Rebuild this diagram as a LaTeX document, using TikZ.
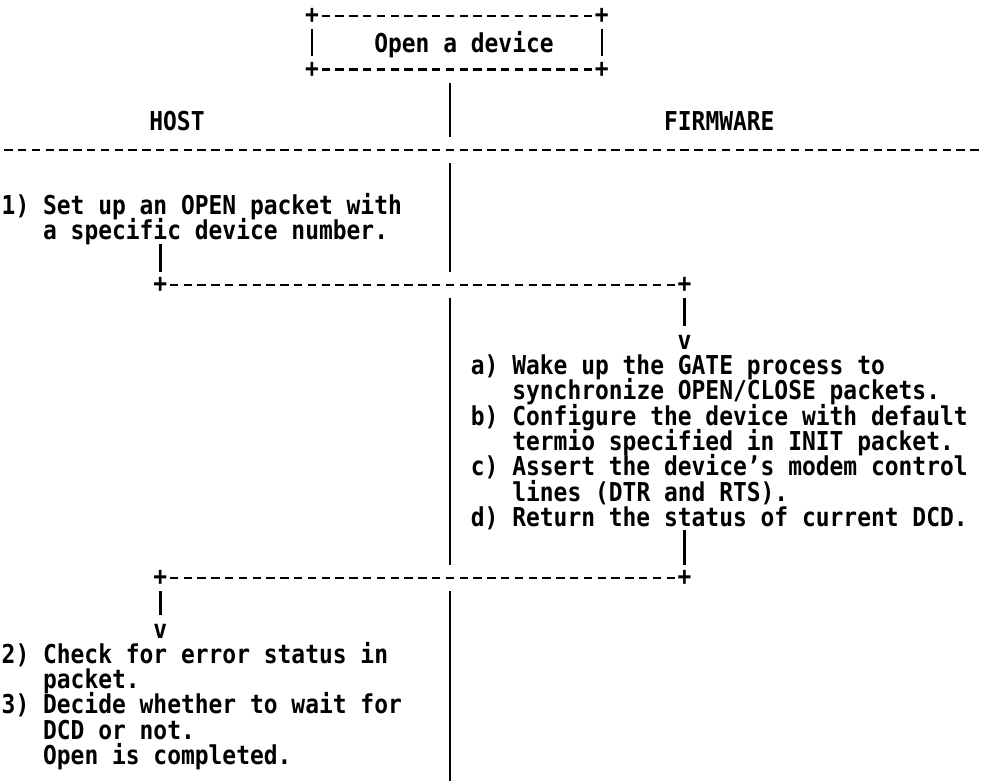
\documentclass[tikz,border=0pt]{standalone}
\usepackage{fontspec}
\newfontfamily\asciifont[FakeStretch=0.8816]{DejaVu Sans Mono}
\newcommand{\ind}{\hphantom{1) }}
\frenchspacing

\begin{document}
\begin{tikzpicture}[x=13.8pt, y=-1pt, shift={(8.4pt,0pt)},
    every node/.style={font={\asciifont\bfseries\fontsize{26}{25.3}\selectfont\lineskiplimit=-30pt}, inner sep=0pt},
    txt/.style={anchor=base west, align=left},
    crs/.style={anchor=center},
    arr/.style={anchor=base},
    vbar/.style={line width=2.6pt, shorten <=13.4pt, shorten >=13.4pt},
    hdash/.style={line width=2.6pt, dash pattern=on 8.3pt off 5.5pt, shorten <=9.65pt, shorten >=9.65pt}]
    \useasboundingbox (-0.609,0) rectangle (70.55,780);

    % title box
    \node[txt] (open) at (26.5,52.5) {Open a device};
    \node[crs] (bx1) at (22,16) {+};
    \node[crs] (bx2) at (43,16) {+};
    \node[crs] (bx3) at (22,69.5) {+};
    \node[crs] (bx4) at (43,69.5) {+};
    \draw[hdash] (bx1.center) -- (bx2.center);
    \draw[hdash] (bx3.center) -- (bx4.center);
    \draw[vbar] (bx1.center) -- (bx3.center);
    \draw[vbar] (bx2.center) -- (bx4.center);

    % column heads and separator
    \node[txt] (host) at (10.2,130.5) {HOST};
    \node[txt] (fw) at (47.5,130.5) {FIRMWARE};
    \coordinate (sepL) at (-1,150);
    \coordinate (sepR) at (71,150);
    \draw[hdash] (sepL) -- (sepR);

    % middle line
    \coordinate (m0) at (32,69.5);
    \coordinate (m1) at (32,150);
    \coordinate (m2) at (32,285);
    \coordinate (m3) at (32,578);
    \coordinate (m4) at (32,794);
    \foreach \a/\b in {m0/m1,m1/m2,m2/m3,m3/m4}
        \draw[vbar] (\a) -- (\b);

    % host, step 1 (base = last line)
    \node[txt] (h1) at (-0.5,239.8) {1) Set up an OPEN packet with\\
        \ind a specific device number.};
    \coordinate (h1out) at (11,230.3);
    \node[crs] (pl1) at (11,285) {+};
    \node[crs] (pr1) at (49,285) {+};
    \node[arr] (vr) at (49,349) {v};
    \draw[vbar] (h1out) -- (pl1.center);
    \draw[hdash] (pl1.center) -- (pr1.center);
    \draw[vbar, shorten >=8.7pt] (pr1.center) -- (vr.north);

    % firmware
    \node[txt] (f1) at (33.5,526.3) {a) Wake up the GATE process to\\
        \ind synchronize OPEN/CLOSE packets.\\
        b) Configure the device with default\\
        \ind termio specified in INIT packet.\\
        c) Assert the device’s modem control\\
        \ind lines (DTR and RTS).\\
        d) Return the status of current DCD.};
    \coordinate (f1out) at (49,517);
    \node[crs] (pr2) at (49,578) {+};
    \node[crs] (pl2) at (11,578) {+};
    \node[arr] (vl) at (11,638) {v};
    \draw[vbar] (f1out) -- (pr2.center);
    \draw[hdash] (pr2.center) -- (pl2.center);
    \draw[vbar, shorten >=8.7pt] (pl2.center) -- (vl.north);

    % host, steps 2 and 3
    \node[txt] (h2) at (-0.5,764.5) {2) Check for error status in\\
        \ind packet.\\
        3) Decide whether to wait for\\
        \ind DCD or not.\\
        \ind Open is completed.};
\end{tikzpicture}
\end{document}
